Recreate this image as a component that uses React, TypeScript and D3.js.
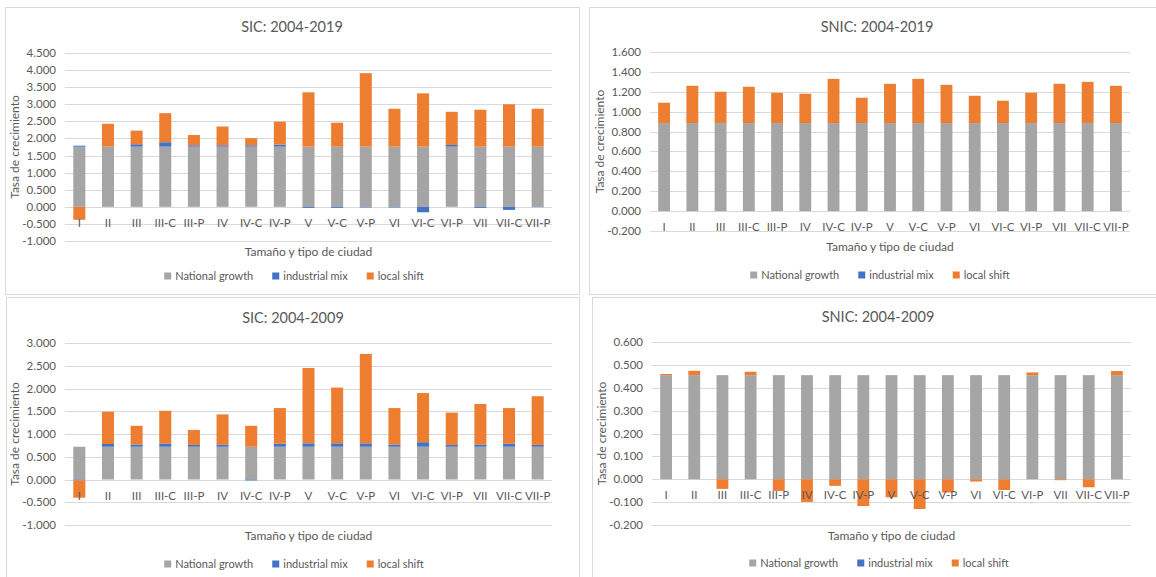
import React, { useEffect, useRef } from "react";
import * as d3 from "d3";

// city size / type categories
const categories = [
  "I", "II", "III", "III-C", "III-P", "IV", "IV-C", "IV-P",
  "V", "V-C", "V-P", "VI", "VI-C", "VI-P", "VII", "VII-C", "VII-P",
];

const seriesNames = ["National growth", "industrial mix", "local shift"];
const seriesColors = ["#A5A5A5", "#4472C4", "#ED7D31"];

// SIC 2004-2019
const sic1919National = [1.76, 1.76, 1.76, 1.76, 1.76, 1.76, 1.76, 1.76, 1.76, 1.76, 1.76, 1.76, 1.76, 1.76, 1.76, 1.76, 1.76];
const sic1919Mix = [0.03, 0.0, 0.07, 0.13, 0.04, 0.04, 0.04, 0.06, -0.03, -0.03, -0.02, -0.02, -0.16, 0.05, -0.03, -0.09, -0.01];
const sic1919Local = [-0.38, 0.67, 0.4, 0.85, 0.3, 0.55, 0.21, 0.67, 1.59, 0.7, 2.15, 1.11, 1.56, 0.97, 1.08, 1.24, 1.11];

// SNIC 2004-2019
const snic1919National = [0.885, 0.885, 0.885, 0.885, 0.885, 0.885, 0.885, 0.885, 0.885, 0.885, 0.885, 0.885, 0.885, 0.885, 0.885, 0.885, 0.885];
const snic1919Mix = [0, 0, 0, 0, 0, 0, 0, 0, 0, 0, 0, 0, 0, 0, 0, 0, 0];
const snic1919Local = [0.205, 0.375, 0.315, 0.365, 0.305, 0.295, 0.445, 0.255, 0.395, 0.445, 0.385, 0.275, 0.225, 0.305, 0.395, 0.415, 0.375];

// SIC 2004-2009
const sic0409National = [0.72, 0.72, 0.72, 0.72, 0.72, 0.72, 0.72, 0.72, 0.72, 0.72, 0.72, 0.72, 0.72, 0.72, 0.72, 0.72, 0.72];
const sic0409Mix = [-0.02, 0.06, 0.05, 0.07, 0.04, 0.05, -0.02, 0.07, 0.075, 0.075, 0.075, 0.05, 0.1, 0.04, 0.05, 0.07, 0.04];
const sic0409Local = [-0.38, 0.71, 0.41, 0.72, 0.33, 0.66, 0.46, 0.78, 1.655, 1.225, 1.965, 0.8, 1.08, 0.71, 0.89, 0.78, 1.07];

// SNIC 2004-2009
const snic0409National = [0.455, 0.455, 0.455, 0.455, 0.455, 0.455, 0.455, 0.455, 0.455, 0.455, 0.455, 0.455, 0.455, 0.455, 0.455, 0.455, 0.455];
const snic0409Mix = [0, 0, 0, 0, 0, 0, 0, 0, 0, 0, 0, 0, 0, 0, 0, 0, 0];
const snic0409Local = [0.005, 0.019, -0.042, 0.015, -0.051, -0.099, -0.029, -0.117, -0.079, -0.13, -0.058, -0.01, -0.047, 0.012, -0.004, -0.035, 0.018];

// tick labels
const ticksSic19 = [-1, -0.5, 0, 0.5, 1, 1.5, 2, 2.5, 3, 3.5, 4, 4.5];
const ticksSnic19 = [-0.2, 0, 0.2, 0.4, 0.6, 0.8, 1, 1.2, 1.4, 1.6];
const ticksSic09 = [-1, -0.5, 0, 0.5, 1, 1.5, 2, 2.5, 3];
const ticksSnic09 = [-0.2, -0.1, 0, 0.1, 0.2, 0.3, 0.4, 0.5, 0.6];

const FONT = "Lato, 'Open Sans', sans-serif";
const TEXT = "#595959";
const GRID = "#D9D9D9";

const fmt = d3
  .formatLocale({ decimal: ".", thousands: ",", grouping: [3], currency: ["", ""], minus: "-" })
  .format(".3f");

const panels = [
  {
    title: "SIC: 2004-2019",
    box: [5, 7, 574, 287],
    left: 65, right: 552, top: 53, bottom: 241,
    titleY: 27, titleX: 292, axisTitleY: 252, legendY: 276, legendX: 294, yTitleX: 15,
    ticks: ticksSic19,
    values: [sic1919National, sic1919Mix, sic1919Local],
  },
  {
    title: "SNIC: 2004-2019",
    box: [589, 7, 578, 287],
    left: 650, right: 1130, top: 52, bottom: 231,
    titleY: 27, titleX: 877, axisTitleY: 247, legendY: 275, legendX: 880, yTitleX: 600,
    ticks: ticksSnic19,
    values: [snic1919National, snic1919Mix, snic1919Local],
  },
  {
    title: "SIC: 2004-2009",
    box: [6, 297, 573, 290],
    left: 65, right: 552, top: 343, bottom: 525,
    titleY: 318, titleX: 293, axisTitleY: 536, legendY: 564, legendX: 294, yTitleX: 15,
    ticks: ticksSic09,
    values: [sic0409National, sic0409Mix, sic0409Local],
  },
  {
    title: "SNIC: 2004-2009",
    box: [592, 297, 575, 290],
    left: 652, right: 1131, top: 342, bottom: 525,
    titleY: 317, titleX: 878, axisTitleY: 536, legendY: 563, legendX: 879, yTitleX: 602,
    ticks: ticksSnic09,
    values: [snic0409National, snic0409Mix, snic0409Local],
  },
];

function drawPanel(root: any, p: any) {
  const g = root.append("g");

  // chart border
  g.append("rect")
    .attr("x", p.box[0] + 0.5)
    .attr("y", p.box[1] + 0.5)
    .attr("width", p.box[2])
    .attr("height", p.box[3])
    .attr("fill", "#fff")
    .attr("stroke", GRID);

  const x = d3
    .scaleBand()
    .domain(categories)
    .range([p.left, p.right])
    .paddingInner(0.58)
    .paddingOuter(0.29);

  const y = d3
    .scaleLinear()
    .domain([p.ticks[0], p.ticks[p.ticks.length - 1]])
    .range([p.bottom, p.top]);

  // gridlines
  g.selectAll(".grid")
    .data(p.ticks)
    .join("line")
    .attr("x1", p.left)
    .attr("x2", p.right)
    .attr("y1", (d: number) => Math.round(y(d)) + 0.5)
    .attr("y2", (d: number) => Math.round(y(d)) + 0.5)
    .attr("stroke", GRID)
    .attr("stroke-width", 1);

  // y tick labels
  g.selectAll(".ytick")
    .data(p.ticks)
    .join("text")
    .attr("x", p.left - 9)
    .attr("y", (d: number) => y(d))
    .attr("dy", "0.35em")
    .attr("text-anchor", "end")
    .style("font-family", FONT)
    .style("font-size", "11.5px")
    .style("fill", TEXT)
    .text((d: number) => fmt(d));

  // stacked bars (positives up, negatives down like Excel)
  const rows = categories.map((c, i) => ({
    cat: c,
    s0: p.values[0][i],
    s1: p.values[1][i],
    s2: p.values[2][i],
  }));
  const stacked = d3
    .stack<any>()
    .keys(["s0", "s1", "s2"])
    .offset(d3.stackOffsetDiverging)(rows);

  stacked.forEach((layer: any, si: number) => {
    g.append("g")
      .attr("fill", seriesColors[si])
      .selectAll("rect")
      .data(layer.filter((d: any) => d[0] !== d[1]))
      .join("rect")
      .attr("x", (d: any) => x(d.data.cat))
      .attr("width", x.bandwidth())
      .attr("y", (d: any) => y(Math.max(d[0], d[1])))
      .attr("height", (d: any) => Math.abs(y(d[0]) - y(d[1])));
  });

  // category labels next to the zero line
  g.selectAll(".xtick")
    .data(categories)
    .join("text")
    .attr("x", (d: string) => (x(d) as number) + x.bandwidth() / 2)
    .attr("y", y(0) + 16)
    .attr("dy", "0.35em")
    .attr("text-anchor", "middle")
    .style("font-family", FONT)
    .style("font-size", "11.5px")
    .style("fill", TEXT)
    .text((d: string) => d);

  // title
  g.append("text")
    .attr("x", p.titleX)
    .attr("y", p.titleY)
    .attr("dy", "0.35em")
    .attr("text-anchor", "middle")
    .style("font-family", FONT)
    .style("font-size", "14.5px")
    .style("fill", TEXT)
    .text(p.title);

  // axis titles
  g.append("text")
    .attr("x", (p.left + p.right) / 2)
    .attr("y", p.axisTitleY)
    .attr("dy", "0.35em")
    .attr("text-anchor", "middle")
    .style("font-family", FONT)
    .style("font-size", "12px")
    .style("fill", TEXT)
    .text("Tamaño y tipo de ciudad");

  g.append("text")
    .attr("transform", `translate(${p.yTitleX},${(p.top + p.bottom) / 2}) rotate(-90)`)
    .attr("dy", "0.35em")
    .attr("text-anchor", "middle")
    .style("font-family", FONT)
    .style("font-size", "12px")
    .style("fill", TEXT)
    .text("Tasa de crecimiento");

  // legend, centered
  const lg = g.append("g");
  let cx = 0;
  seriesNames.forEach((name, i) => {
    lg.append("rect")
      .attr("x", cx)
      .attr("y", p.legendY - 3.5)
      .attr("width", 7)
      .attr("height", 7)
      .attr("fill", seriesColors[i]);
    const t = lg
      .append("text")
      .attr("x", cx + 11)
      .attr("y", p.legendY)
      .attr("dy", "0.35em")
      .style("font-family", FONT)
      .style("font-size", "11px")
      .style("fill", TEXT)
      .text(name);
    const w = (t.node() as SVGTextElement).getComputedTextLength();
    cx += 11 + w + (i < seriesNames.length - 1 ? 19 : 0);
  });
  lg.attr("transform", `translate(${p.legendX - cx / 2},0)`);
}

export default function App() {
  const svgRef = useRef<SVGSVGElement>(null);

  useEffect(() => {
    const svg = d3.select(svgRef.current);
    svg.selectAll("*").remove();
    svg.append("rect").attr("width", 1156).attr("height", 577).attr("fill", "#fff");
    panels.forEach((p) => drawPanel(svg, p));
  }, []);

  return (
    <div style={{ position: "absolute", left: 0, top: 0 }}>
      <svg ref={svgRef} width={1156} height={577} style={{ display: "block" }}></svg>
    </div>
  );
}
